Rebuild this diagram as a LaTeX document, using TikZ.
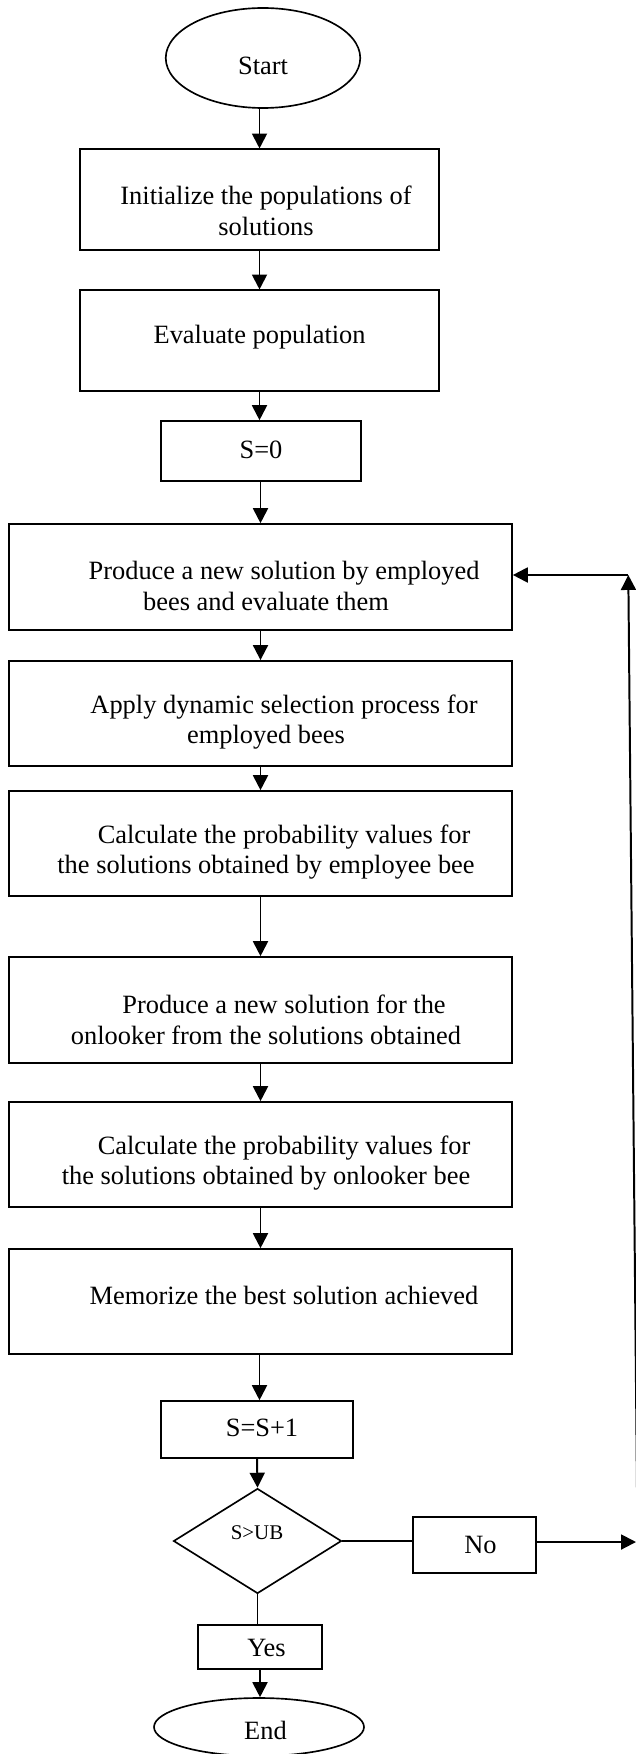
\documentclass[tikz,border=0pt]{standalone}
\usepackage{fontspec}
\setmainfont{Liberation Serif}
\usetikzlibrary{arrows.meta,shapes.geometric}
\newcommand\pxu{0.4545pt}
\begin{document}
\begin{tikzpicture}[x=0.4545pt,y=-0.4545pt,
  box/.style={draw, rectangle, inner sep=0pt, line width=0.75pt},
  oval/.style={draw, ellipse, inner sep=0pt, line width=0.75pt},
  dia/.style={draw, diamond, inner sep=0pt, line width=0.75pt},
  txt/.style={align=center, inner sep=0pt, font=\fontsize{12}{13.8}\selectfont},
  small/.style={align=center, inner sep=0pt, font=\fontsize{9.5}{11}\selectfont},
  arr/.style={-{Triangle[length=6.8pt,width=6.8pt]}, line width=0.9pt},
  lin/.style={line width=0.9pt}]
\useasboundingbox (0,0) rectangle (636,1754);

% shapes
\node[oval, minimum width=194.5*\pxu, minimum height=100*\pxu] (start) at (263,58) {};
\node[box, minimum width=359*\pxu, minimum height=101*\pxu] (init) at (259.5,199.8) {};
\node[box, minimum width=359*\pxu, minimum height=101*\pxu] (eval) at (259.5,340.8) {};
\node[box, minimum width=200*\pxu, minimum height=60*\pxu] (szero) at (261,451) {};
\node[box, minimum width=503*\pxu, minimum height=106*\pxu] (prod) at (260.5,577) {};
\node[box, minimum width=503*\pxu, minimum height=105*\pxu] (apply) at (260.5,713.4) {};
\node[box, minimum width=503*\pxu, minimum height=105*\pxu] (calcA) at (260.5,843.5) {};
\node[box, minimum width=503*\pxu, minimum height=106*\pxu] (onl) at (260.5,1010) {};
\node[box, minimum width=503*\pxu, minimum height=105*\pxu] (calcB) at (260.5,1154.5) {};
\node[box, minimum width=503*\pxu, minimum height=105*\pxu] (mem) at (260.5,1301.5) {};
\node[box, minimum width=192*\pxu, minimum height=57*\pxu] (sinc) at (257,1429.5) {};
\node[dia, minimum width=168*\pxu, minimum height=105*\pxu] (cond) at (257.5,1541) {};
\node[box, minimum width=123*\pxu, minimum height=56*\pxu] (no) at (474.5,1545) {};
\node[box, minimum width=124*\pxu, minimum height=44*\pxu] (yes) at (260,1647) {};
\node[oval, minimum width=210*\pxu, minimum height=58*\pxu] (end) at (259,1727) {};

% texts
\node[txt] (tstart) at (263,66) {Start};
\node[txt] (tinit) at (266,211) {Initialize the populations of\\solutions};
\node[txt] (teval) at (259.6,337) {Evaluate population};
\node[txt] (tszero) at (261,449.5) {S=0};
\node[txt] (tprod) at (266,586) {\hspace*{16.4pt}Produce a new solution by employed\\bees and evaluate them};
\node[txt] (tapply) at (266,722) {\hspace*{16.4pt}Apply dynamic selection process for\\employed bees};
\node[txt] (tcalcA) at (266,852) {\hspace*{16.4pt}Calculate the probability values for\\the solutions obtained by employee bee};
\node[txt] (tonl) at (266,1020) {\hspace*{16.4pt}Produce a new solution for the\\onlooker from the solutions obtained};
\node[txt] (tcalcB) at (266,1163) {\hspace*{16.4pt}Calculate the probability values for\\the solutions obtained by onlooker bee};
\node[txt] (tmem) at (266,1295) {\hspace*{16.4pt}Memorize the best solution achieved};
\node[txt] (tsinc) at (262,1428) {S=S+1};
\node[small] (tcond) at (257,1533) {S>UB};
\node[txt] (tno) at (480.5,1545) {No};
\node[txt] (tyes) at (266.5,1648) {Yes};
\node[txt] (tend) at (265.5,1730) {End};

% connectors
\coordinate (noend) at (636,1542);
\coordinate (fbbot) at (637.5,1542);
\coordinate (fbtop) at (628.3,575);

\draw[arr] (init.north |- start.south) -- (init.north);
\draw[arr] (init.south) -- (eval.north);
\draw[arr] (eval.south) -- (eval.south |- szero.north);
\draw[arr] (prod.north |- szero.south) -- (prod.north);
\draw[arr] (prod.south) -- (apply.north);
\draw[arr] (apply.south) -- (calcA.north);
\draw[arr] (calcA.south) -- (onl.north);
\draw[arr] (onl.south) -- (calcB.north);
\draw[arr] (calcB.south) -- (mem.north);
\draw[arr] ([xshift=-1*\pxu]mem.south) -- ([xshift=-1*\pxu]mem.south |- sinc.north);
\draw[arr] (sinc.south) -- (cond.north);
\draw[lin] (cond.south) -- (cond.south |- yes.north);
\draw[arr] (yes.south) -- (yes.south |- end.north);
\draw[lin] (cond.east) -- (cond.east -| no.west);
\draw[arr] (no.east |- noend) -- (noend);
\draw[arr] (fbbot) -- (fbtop);
\draw[arr] (fbtop) -- (fbtop -| prod.east);
\end{tikzpicture}
\end{document}
